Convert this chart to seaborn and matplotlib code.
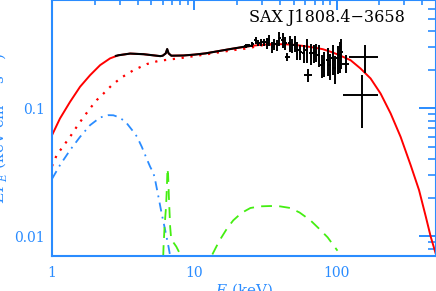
import matplotlib
matplotlib.use('Agg')
import matplotlib.pyplot as plt
import matplotlib.ticker as mticker
import seaborn as sns

# total model (red solid)
total_E = [1.0, 1.138, 1.339, 1.575, 1.852, 2.18, 2.56, 2.93, 3.54, 4.4, 5.77, 6.0, 6.3,
           6.45, 6.6, 6.9, 8.4, 10, 12, 14.5, 18, 22, 25, 29, 35, 42, 50, 60, 70, 80,
           90, 100, 106.7, 125.5, 147.5, 173.5, 204, 240, 282, 332, 380, 424, 459, 498]
total_F = [0.0615, 0.0831, 0.112, 0.147, 0.181, 0.217, 0.245, 0.259, 0.267, 0.264, 0.255,
           0.257, 0.268, 0.288, 0.268, 0.257, 0.258, 0.262, 0.268, 0.278, 0.29, 0.30,
           0.306, 0.312, 0.316, 0.316, 0.313, 0.305, 0.297, 0.289, 0.277, 0.265, 0.257,
           0.237, 0.204, 0.1706, 0.130, 0.0909, 0.0597, 0.0358, 0.0229, 0.0142, 0.0099,
           0.0073]

# continuum without line (red dotted)
cont_E = [1.0, 1.079, 1.2, 1.339, 1.49, 1.66, 1.85, 2.06, 2.3, 2.63, 3.09, 3.74, 4.64,
          5.6, 8.0, 12.3, 18.8, 22, 26, 30, 35]
cont_F = [0.0352, 0.043, 0.0505, 0.0597, 0.0714, 0.0846, 0.0995, 0.1155, 0.130, 0.151,
          0.174, 0.198, 0.221, 0.234, 0.246, 0.264, 0.284, 0.29, 0.30, 0.31, 0.315]

# folded model over the MECS band (black solid)
fold_E = [2.8, 2.93, 3.54, 4.4, 5.77, 6.0, 6.3, 6.45, 6.6, 6.9, 8.4, 10, 12, 14.5, 18,
          22, 25]
fold_F = [0.256, 0.259, 0.267, 0.264, 0.255, 0.257, 0.268, 0.29, 0.268, 0.257, 0.258,
          0.262, 0.268, 0.278, 0.29, 0.301, 0.307]

# soft thermal component (blue dash-dot)
bb_E = [1.0, 1.138, 1.339, 1.575, 1.85, 2.18, 2.49, 2.7, 2.86, 3.18, 3.36, 3.74, 3.95,
        4.28, 4.64, 4.9, 5.17, 5.31, 5.6, 5.9, 6.25, 6.6, 6.8]
bb_F = [0.028, 0.0359, 0.047, 0.0597, 0.0736, 0.0846, 0.0882, 0.088, 0.086, 0.0806,
        0.076, 0.0653, 0.060, 0.0498, 0.040, 0.0348, 0.031, 0.0274, 0.0203, 0.015,
        0.0111, 0.0082, 0.0068]

# iron line (green dashed)
line_E = [6.05, 6.08, 6.18, 6.33, 6.42, 6.48, 6.55, 6.63, 6.77, 6.88, 7.2, 7.47, 7.97]
line_F = [0.007, 0.0082, 0.0118, 0.0169, 0.0243, 0.0338, 0.030, 0.0203, 0.0118, 0.0095,
          0.0088, 0.0083, 0.0072]

# reflection hump (green dashed)
refl_E = [13.4, 15, 17, 18.8, 21.5, 24.8, 29, 34.2, 40, 47.3, 55, 65.5, 75, 86.5, 101.5]
refl_F = [0.0072, 0.0092, 0.0115, 0.0133, 0.0152, 0.0166, 0.0171, 0.0172, 0.0171,
          0.0166, 0.0153, 0.0133, 0.0115, 0.0098, 0.0077]

# PDS data points
data_E = [23, 24, 25.6, 27, 28.2, 29.6, 31.1, 32.7, 33.5, 35.4, 36.6, 38.4, 39.5, 41.7,
          43.5, 45.2, 46.7, 49, 51.4, 53.1, 55.7, 58.6, 61.5, 63.5, 65.6, 68.9, 71.2,
          74.7, 78.4, 81, 86.4, 89.3, 93.7, 96.8, 101.6, 105, 108, 116, 158, 152]
data_F = [0.305, 0.31, 0.316, 0.34, 0.322, 0.328, 0.328, 0.322, 0.34, 0.299, 0.316,
          0.31, 0.352, 0.34, 0.322, 0.25, 0.322, 0.31, 0.322, 0.284, 0.274, 0.269,
          0.284, 0.181, 0.269, 0.269, 0.274, 0.259, 0.216, 0.224, 0.237, 0.216, 0.246,
          0.205, 0.246, 0.259, 0.274, 0.223, 0.249, 0.126]
data_dF = [0.01, 0.01, 0.014, 0.02, 0.018, 0.022, 0.022, 0.03, 0.035, 0.03, 0.03,
           0.03, 0.045, 0.045, 0.038, 0.018, 0.045, 0.038, 0.045, 0.045, 0.038, 0.045,
           0.06, 0.022, 0.05, 0.045, 0.045, 0.05, 0.045, 0.05, 0.06, 0.05, 0.065, 0.05,
           0.06, 0.07, 0.07, 0.036, 0.062, 0.056]
data_dE_lo = [0.6, 0.6, 0.7, 0.7, 0.7, 0.7, 0.8, 0.8, 0.8, 0.9, 0.9, 1.0, 1.0, 1.0,
              1.0, 1.5, 1.1, 1.2, 1.2, 1.3, 1.3, 1.4, 1.4, 4.0, 1.5, 1.6, 1.6, 1.7, 1.8,
              1.9, 2.0, 2.0, 2.1, 2.2, 2.3, 2.4, 2.5, 7.0, 35, 40.5]
data_dE_hi = [0.6, 0.6, 0.7, 0.7, 0.7, 0.7, 0.8, 0.8, 0.8, 0.9, 0.9, 1.0, 1.0, 1.0,
              1.0, 1.5, 1.1, 1.2, 1.2, 1.3, 1.3, 1.4, 1.4, 4.0, 1.5, 1.6, 1.6, 1.7, 1.8,
              1.9, 2.0, 2.0, 2.1, 2.2, 2.3, 2.4, 2.5, 7.0, 36, 42]

BLUE = "#2a8cff"
GREEN = "#44ee11"

sns.set_style("white")
plt.rcParams['font.family'] = ["DejaVu Serif"]
plt.rcParams['mathtext.fontset'] = 'dejavuserif'

fig = plt.figure(figsize=(4.36, 2.91), dpi=100)
ax = fig.add_axes([52 / 436, 35 / 291, 384 / 436, 256 / 291])

sns.lineplot(x=total_E, y=total_F, ax=ax, color="red", lw=1.4, sort=False, estimator=None)
sns.lineplot(x=cont_E, y=cont_F, ax=ax, color="red", lw=1.6, sort=False, estimator=None,
             linestyle=(0, (1, 3)))
sns.lineplot(x=fold_E, y=fold_F, ax=ax, color="black", lw=1.5, sort=False, estimator=None)
sns.lineplot(x=bb_E, y=bb_F, ax=ax, color=BLUE, lw=1.3, sort=False, estimator=None,
             linestyle=(0, (5, 3, 1, 3)))
sns.lineplot(x=line_E, y=line_F, ax=ax, color=GREEN, lw=1.3, sort=False, estimator=None,
             linestyle=(0, (6, 4)))
sns.lineplot(x=refl_E, y=refl_F, ax=ax, color=GREEN, lw=1.3, sort=False, estimator=None,
             linestyle=(0, (6, 4)))

ax.errorbar(data_E, data_F, yerr=data_dF, xerr=[data_dE_lo, data_dE_hi], fmt='none',
            ecolor="black", elinewidth=1.4, capsize=0)

ax.set_xscale("log")
ax.set_yscale("log")
ax.set_xlim(1, 500)
ax.set_ylim(0.007, 0.7)

ax.xaxis.set_major_formatter(mticker.FuncFormatter(lambda v, p: f"{v:g}"))
ax.yaxis.set_major_formatter(mticker.FuncFormatter(lambda v, p: f"{v:g}"))
ax.xaxis.set_minor_formatter(mticker.NullFormatter())
ax.yaxis.set_minor_formatter(mticker.NullFormatter())

for side in ax.spines.values():
    side.set_color(BLUE)
    side.set_linewidth(1.5)
ax.tick_params(axis='x', which='major', direction='in', length=7.2, width=1.4, color=BLUE,
               labelcolor=BLUE, labelsize=10, top=True, pad=7)
ax.tick_params(axis='x', which='minor', direction='in', length=3.8, width=1.2, color=BLUE,
               top=True)
ax.tick_params(axis='y', which='major', direction='in', length=12, width=1.4, color=BLUE,
               labelcolor=BLUE, labelsize=10, right=True, pad=5)
ax.tick_params(axis='y', which='minor', direction='in', length=6, width=1.2, color=BLUE,
               right=True)

ax.set_xlabel("$E$ (keV)", color=BLUE, fontsize=11, va='top')
ax.xaxis.set_label_coords(0.5, -0.10)
ax.set_ylabel("$EF_E$ (keV cm$^{-2}$ s$^{-1}$)", color=BLUE, fontsize=11)
ax.yaxis.set_label_coords(-0.112, 0.5)

ax.text(0.92, 0.93, "SAX J1808.4\u22123658", transform=ax.transAxes, ha='right',
        va='center', fontsize=11.5, color="black")

fig.savefig("out.png", dpi=100)
